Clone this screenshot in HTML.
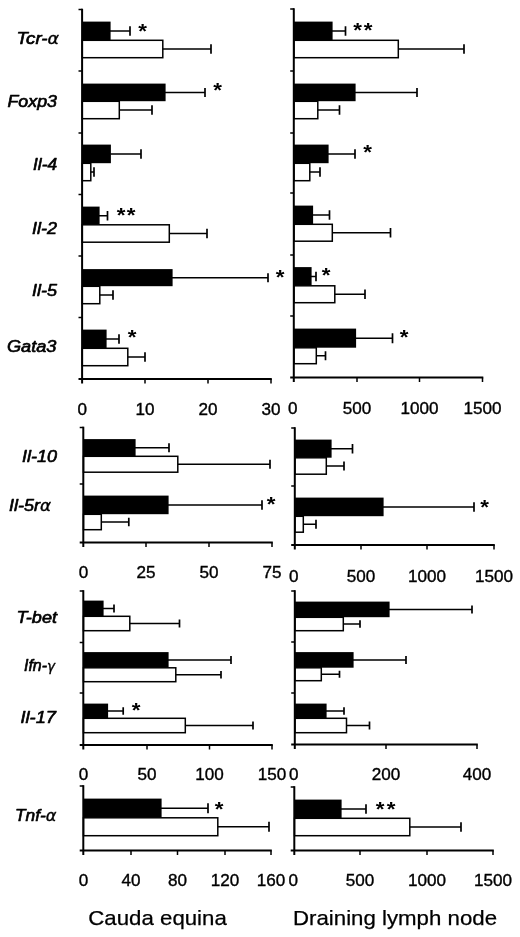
<!DOCTYPE html>
<html lang="en"><head><meta charset="utf-8"><title>Figure</title>
<style>html,body{margin:0;padding:0;background:#fff}svg{display:block}</style>
</head><body>
<svg width="520" height="937" viewBox="0 0 520 937">
<rect width="520" height="937" fill="#fff"/>
<g stroke="#000" stroke-width="1.5" fill="none" stroke-linecap="butt">
<path d="M110 31.0H130M130 26.19V35.81" stroke-width="1.7"/>
<rect x="82.3" y="21.6" width="28.300000000000004" height="18.6" fill="#000" stroke="none"/>
<path d="M162.5 49.0H211M211 44.19V53.81" stroke-width="1.7"/>
<rect x="82.3" y="40.3" width="80.50" height="17.40" fill="#fff"/>
<path d="M165 92.5H205M205 87.96V97.04" stroke-width="1.7"/>
<rect x="82.3" y="83.6" width="83.3" height="17.6" fill="#000" stroke="none"/>
<path d="M119 110.0H152M152 105.19V114.81" stroke-width="1.7"/>
<rect x="82.3" y="101.3" width="37.00" height="17.40" fill="#fff"/>
<path d="M110.3 154.0H141M141 149.19V158.81" stroke-width="1.7"/>
<rect x="82.3" y="144.6" width="28.6" height="18.6" fill="#000" stroke="none"/>
<path d="M90.5 172.0H94M94 167.19V176.81" stroke-width="1.7"/>
<rect x="82.3" y="163.3" width="8.50" height="17.40" fill="#fff"/>
<path d="M99 215.75H107.5M107.5 211.08V220.42" stroke-width="1.7"/>
<rect x="82.3" y="206.6" width="17.300000000000004" height="18.1" fill="#000" stroke="none"/>
<path d="M169 233.5H207M207 228.69V238.31" stroke-width="1.7"/>
<rect x="82.3" y="224.8" width="87.00" height="17.40" fill="#fff"/>
<path d="M172 277.75H268M268 273.34V282.16" stroke-width="1.7"/>
<rect x="82.3" y="269.1" width="90.3" height="17.1" fill="#000" stroke="none"/>
<path d="M99.5 295.0H113M113 290.19V299.81" stroke-width="1.7"/>
<rect x="82.3" y="286.3" width="17.50" height="17.40" fill="#fff"/>
<path d="M106 339.0H119M119 334.19V343.81" stroke-width="1.7"/>
<rect x="82.3" y="329.6" width="24.300000000000004" height="18.6" fill="#000" stroke="none"/>
<path d="M127.5 357.0H145M145 352.19V361.81" stroke-width="1.7"/>
<rect x="82.3" y="348.3" width="45.50" height="17.40" fill="#fff"/>
<path d="M82.1 8.7V383.5" stroke-width="2"/>
<path d="M78.5 9.5H82.3"/>
<path d="M78.5 71H82.3"/>
<path d="M78.5 133H82.3"/>
<path d="M78.5 194.5H82.3"/>
<path d="M78.5 256H82.3"/>
<path d="M78.5 317.5H82.3"/>
<path d="M78.5 379H271.8" stroke-width="1.8"/>
<path d="M145 379V383.5"/>
<path d="M208 379V383.5"/>
<path d="M271 379V383.5"/>
<path d="M332 31.0H345.5M345.5 26.19V35.81" stroke-width="1.7"/>
<rect x="294" y="21.6" width="38.6" height="18.6" fill="#000" stroke="none"/>
<path d="M398 49.0H464M464 44.19V53.81" stroke-width="1.7"/>
<rect x="294" y="40.3" width="104.30" height="17.40" fill="#fff"/>
<path d="M355 92.5H417M417 87.96V97.04" stroke-width="1.7"/>
<rect x="294" y="83.6" width="61.6" height="17.6" fill="#000" stroke="none"/>
<path d="M317.5 110.0H339.5M339.5 105.19V114.81" stroke-width="1.7"/>
<rect x="294" y="101.3" width="23.80" height="17.40" fill="#fff"/>
<path d="M328 154.0H355M355 149.19V158.81" stroke-width="1.7"/>
<rect x="294" y="144.6" width="34.6" height="18.6" fill="#000" stroke="none"/>
<path d="M309.5 172.0H320M320 167.19V176.81" stroke-width="1.7"/>
<rect x="294" y="163.3" width="15.80" height="17.40" fill="#fff"/>
<path d="M312.5 215.0H329.5M329.5 210.19V219.81" stroke-width="1.7"/>
<rect x="294" y="205.6" width="19.1" height="18.6" fill="#000" stroke="none"/>
<path d="M332 232.75H390.5M390.5 228.08V237.42" stroke-width="1.7"/>
<rect x="294" y="224.3" width="38.30" height="16.90" fill="#fff"/>
<path d="M311 276.5H316M316 271.69V281.31" stroke-width="1.7"/>
<rect x="294" y="267.1" width="17.6" height="18.6" fill="#000" stroke="none"/>
<path d="M334.5 294.25H365M365 289.58V298.92" stroke-width="1.7"/>
<rect x="294" y="285.8" width="40.80" height="16.90" fill="#fff"/>
<path d="M355.5 338.25H392.5M392.5 333.31V343.19" stroke-width="1.7"/>
<rect x="294" y="328.6" width="62.1" height="19.1" fill="#000" stroke="none"/>
<path d="M316 355.75H325.5M325.5 351.34V360.16" stroke-width="1.7"/>
<rect x="294" y="347.8" width="22.30" height="15.90" fill="#fff"/>
<path d="M293.8 8.2V382.0" stroke-width="2"/>
<path d="M290.2 9H294"/>
<path d="M290.2 71H294"/>
<path d="M290.2 133H294"/>
<path d="M290.2 193H294"/>
<path d="M290.2 255H294"/>
<path d="M290.2 316H294"/>
<path d="M290.2 377.5H483.3" stroke-width="1.8"/>
<path d="M357 377.5V382.0"/>
<path d="M419.5 377.5V382.0"/>
<path d="M482.5 377.5V382.0"/>
<path d="M135 447.75H169M169 443.34V452.16" stroke-width="1.7"/>
<rect x="83.5" y="439.1" width="52.1" height="17.1" fill="#000" stroke="none"/>
<path d="M177.5 464.25H270M270 459.84V468.66" stroke-width="1.7"/>
<rect x="83.5" y="456.3" width="94.30" height="15.90" fill="#fff"/>
<path d="M168 505.0H262M262 500.19V509.81" stroke-width="1.7"/>
<rect x="83.5" y="495.6" width="85.1" height="18.6" fill="#000" stroke="none"/>
<path d="M101 522.0H128.8M128.8 517.73V526.27" stroke-width="1.7"/>
<rect x="83.5" y="514.3" width="17.80" height="15.40" fill="#fff"/>
<path d="M83.3 426.7V547.0" stroke-width="2"/>
<path d="M79.7 427.5H83.5"/>
<path d="M79.7 484H83.5"/>
<path d="M79.7 542.5H272.8" stroke-width="1.8"/>
<path d="M146 542.5V547.0"/>
<path d="M209 542.5V547.0"/>
<path d="M272 542.5V547.0"/>
<path d="M331 448.75H352.5M352.5 444.08V453.42" stroke-width="1.7"/>
<rect x="295" y="439.6" width="36.6" height="18.1" fill="#000" stroke="none"/>
<path d="M326 466.0H344M344 461.46V470.54" stroke-width="1.7"/>
<rect x="295" y="457.8" width="31.30" height="16.40" fill="#fff"/>
<path d="M383 507.0H474M474 502.19V511.81" stroke-width="1.7"/>
<rect x="295" y="497.6" width="88.6" height="18.6" fill="#000" stroke="none"/>
<path d="M303 524.25H316M316 519.84V528.66" stroke-width="1.7"/>
<rect x="295" y="516.3" width="8.30" height="15.90" fill="#fff"/>
<path d="M294.8 427.2V549.5" stroke-width="2"/>
<path d="M291.2 428H295"/>
<path d="M291.2 486H295"/>
<path d="M291.2 545H494.8" stroke-width="1.8"/>
<path d="M361 545V549.5"/>
<path d="M427 545V549.5"/>
<path d="M494 545V549.5"/>
<path d="M103 608.5H114M114 604.5V612.5" stroke-width="1.7"/>
<rect x="83.5" y="600.6" width="20.1" height="15.6" fill="#000" stroke="none"/>
<path d="M129.5 623.5H179.5M179.5 619.5V627.5" stroke-width="1.7"/>
<rect x="83.5" y="616.3" width="46.30" height="14.40" fill="#fff"/>
<path d="M168 660.0H231M231 656.0V664.0" stroke-width="1.7"/>
<rect x="83.5" y="652.1" width="85.1" height="15.6" fill="#000" stroke="none"/>
<path d="M175.5 674.75H221M221 670.88V678.62" stroke-width="1.7"/>
<rect x="83.5" y="667.8" width="92.30" height="13.90" fill="#fff"/>
<path d="M107.5 711.0H123.2M123.2 707.26V714.74" stroke-width="1.7"/>
<rect x="83.5" y="703.6" width="24.6" height="14.6" fill="#000" stroke="none"/>
<path d="M185 725.5H253M253 721.5V729.5" stroke-width="1.7"/>
<rect x="83.5" y="718.3" width="101.80" height="14.40" fill="#fff"/>
<path d="M83.3 590.2V749.5" stroke-width="2"/>
<path d="M79.7 591H83.5"/>
<path d="M79.7 642.5H83.5"/>
<path d="M79.7 693H83.5"/>
<path d="M79.7 745H272.8" stroke-width="1.8"/>
<path d="M147 745V749.5"/>
<path d="M209.5 745V749.5"/>
<path d="M272 745V749.5"/>
<path d="M389 609.5H472M472 605.5V613.5" stroke-width="1.7"/>
<rect x="295" y="601.6" width="94.6" height="15.6" fill="#000" stroke="none"/>
<path d="M343 624.0H360M360 620.26V627.74" stroke-width="1.7"/>
<rect x="295" y="617.3" width="48.30" height="13.40" fill="#fff"/>
<path d="M353 660.0H406M406 656.0V664.0" stroke-width="1.7"/>
<rect x="295" y="652.1" width="58.6" height="15.6" fill="#000" stroke="none"/>
<path d="M321 674.25H339.5M339.5 670.65V677.85" stroke-width="1.7"/>
<rect x="295" y="667.8" width="26.30" height="12.90" fill="#fff"/>
<path d="M326 711.0H344M344 707.26V714.74" stroke-width="1.7"/>
<rect x="295" y="703.6" width="31.6" height="14.6" fill="#000" stroke="none"/>
<path d="M346.2 725.5H369.5M369.5 721.5V729.5" stroke-width="1.7"/>
<rect x="295" y="718.3" width="51.50" height="14.40" fill="#fff"/>
<path d="M294.8 590.2V749.0" stroke-width="2"/>
<path d="M291.2 591H295"/>
<path d="M291.2 642H295"/>
<path d="M291.2 693H295"/>
<path d="M291.2 744.5H477.8" stroke-width="1.8"/>
<path d="M386 744.5V749.0"/>
<path d="M477 744.5V749.0"/>
<path d="M161 808.25H208M208 803.31V813.19" stroke-width="1.7"/>
<rect x="83.5" y="798.6" width="78.1" height="19.1" fill="#000" stroke="none"/>
<path d="M217.5 826.75H269M269 821.81V831.69" stroke-width="1.7"/>
<rect x="83.5" y="817.8" width="134.30" height="17.90" fill="#fff"/>
<path d="M83.3 785.2V855.0" stroke-width="2"/>
<path d="M79.7 786H83.5"/>
<path d="M79.7 850.5H271.8" stroke-width="1.8"/>
<path d="M131 850.5V855.0"/>
<path d="M177.5 850.5V855.0"/>
<path d="M225 850.5V855.0"/>
<path d="M271 850.5V855.0"/>
<path d="M341 809.0H366M366 804.19V813.81" stroke-width="1.7"/>
<rect x="294.5" y="799.6" width="47.1" height="18.6" fill="#000" stroke="none"/>
<path d="M409.5 827.0H461M461 822.19V831.81" stroke-width="1.7"/>
<rect x="294.5" y="818.3" width="115.30" height="17.40" fill="#fff"/>
<path d="M294.3 786.2V855.0" stroke-width="2"/>
<path d="M290.7 787H294.5"/>
<path d="M290.7 850.5H493.8" stroke-width="1.8"/>
<path d="M360 850.5V855.0"/>
<path d="M427 850.5V855.0"/>
<path d="M493 850.5V855.0"/>
</g>
<g font-family="'Liberation Sans', Arial, Helvetica, sans-serif" font-size="15.7" fill="#000" stroke="#000" stroke-width="0.35" text-anchor="middle">
<text transform="translate(82.3 414.8) scale(1.09 1)">0</text>
<text transform="translate(145 414.8) scale(1.09 1)">10</text>
<text transform="translate(208 414.8) scale(1.09 1)">20</text>
<text transform="translate(271 414.8) scale(1.09 1)">30</text>
<text transform="translate(292.8 413.8) scale(1.09 1)">0</text>
<text transform="translate(357 413.8) scale(1.09 1)">500</text>
<text transform="translate(419.5 413.8) scale(1.09 1)">1000</text>
<text transform="translate(482.5 413.8) scale(1.09 1)">1500</text>
<text transform="translate(83.5 577.8) scale(1.09 1)">0</text>
<text transform="translate(146 577.8) scale(1.09 1)">25</text>
<text transform="translate(209 577.8) scale(1.09 1)">50</text>
<text transform="translate(272 577.8) scale(1.09 1)">75</text>
<text transform="translate(293.8 581.8) scale(1.09 1)">0</text>
<text transform="translate(361 581.8) scale(1.09 1)">500</text>
<text transform="translate(427 581.8) scale(1.09 1)">1000</text>
<text transform="translate(494 581.8) scale(1.09 1)">1500</text>
<text transform="translate(83.5 780.3) scale(1.09 1)">0</text>
<text transform="translate(147 780.3) scale(1.09 1)">50</text>
<text transform="translate(209.5 780.3) scale(1.09 1)">100</text>
<text transform="translate(272 780.3) scale(1.09 1)">150</text>
<text transform="translate(293.8 779.8) scale(1.09 1)">0</text>
<text transform="translate(386 779.8) scale(1.09 1)">200</text>
<text transform="translate(477 779.8) scale(1.09 1)">400</text>
<text transform="translate(83.5 885.8) scale(1.09 1)">0</text>
<text transform="translate(131 885.8) scale(1.09 1)">40</text>
<text transform="translate(177.5 885.8) scale(1.09 1)">80</text>
<text transform="translate(225 885.8) scale(1.09 1)">120</text>
<text transform="translate(271 885.8) scale(1.09 1)">160</text>
<text transform="translate(293.3 885.8) scale(1.09 1)">0</text>
<text transform="translate(360 885.8) scale(1.09 1)">500</text>
<text transform="translate(427 885.8) scale(1.09 1)">1000</text>
<text transform="translate(493 885.8) scale(1.09 1)">1500</text>
</g>
<g font-family="'Liberation Sans', Arial, Helvetica, sans-serif" font-size="20" font-weight="bold" fill="#000" text-anchor="middle">
<text transform="translate(142.5 38.2) scale(1.12 1)">*</text>
<text transform="translate(217.5 97.2) scale(1.12 1)">*</text>
<text transform="translate(121 221.7) scale(1.12 1)">*</text>
<text transform="translate(131 221.7) scale(1.12 1)">*</text>
<text transform="translate(280 284.2) scale(1.12 1)">*</text>
<text transform="translate(132 343.7) scale(1.12 1)">*</text>
<text transform="translate(357.5 37.2) scale(1.12 1)">*</text>
<text transform="translate(368 37.2) scale(1.12 1)">*</text>
<text transform="translate(367.5 159.2) scale(1.12 1)">*</text>
<text transform="translate(326 281.7) scale(1.12 1)">*</text>
<text transform="translate(404 344.2) scale(1.12 1)">*</text>
<text transform="translate(271 511.2) scale(1.12 1)">*</text>
<text transform="translate(484.5 514.2) scale(1.12 1)">*</text>
<text transform="translate(136 716.7) scale(1.12 1)">*</text>
<text transform="translate(219 816.2) scale(1.12 1)">*</text>
<text transform="translate(380 816.2) scale(1.12 1)">*</text>
<text transform="translate(391 816.2) scale(1.12 1)">*</text>
</g>
<g font-family="'Liberation Sans', Arial, Helvetica, sans-serif" font-size="16.5" font-style="italic" fill="#000" stroke="#000" stroke-width="0.65" stroke-linejoin="round">
<text x="16.42" y="43.8" textLength="42.60" lengthAdjust="spacingAndGlyphs">Tcr-<tspan font-family="'DejaVu Sans', sans-serif" font-size="15.5" stroke-width="0.4">α</tspan></text>
<text x="7.49" y="106.7" textLength="49.51" lengthAdjust="spacingAndGlyphs">Foxp3</text>
<text x="33.00" y="169.7" textLength="24.00" lengthAdjust="spacingAndGlyphs">Il-4</text>
<text x="32.00" y="234" textLength="25.00" lengthAdjust="spacingAndGlyphs">Il-2</text>
<text x="32.00" y="296" textLength="25.00" lengthAdjust="spacingAndGlyphs">Il-5</text>
<text x="6.98" y="352" textLength="49.52" lengthAdjust="spacingAndGlyphs">Gata3</text>
<text x="22.00" y="462" textLength="35.01" lengthAdjust="spacingAndGlyphs">Il-10</text>
<text x="9.00" y="511.4" textLength="42.01" lengthAdjust="spacingAndGlyphs">Il-5r<tspan font-family="'DejaVu Sans', sans-serif" font-size="15.5" stroke-width="0.4">α</tspan></text>
<text x="16.49" y="623" textLength="40.50" lengthAdjust="spacingAndGlyphs">T-bet</text>
<text x="24.00" y="671.4" textLength="31.03" lengthAdjust="spacingAndGlyphs">Ifn-<tspan font-family="'DejaVu Sans', sans-serif" font-size="14" stroke-width="0.4">γ</tspan></text>
<text x="20.47" y="723.4" textLength="35.54" lengthAdjust="spacingAndGlyphs">Il-17</text>
<text x="14.97" y="821" textLength="41.55" lengthAdjust="spacingAndGlyphs">Tnf-<tspan font-family="'DejaVu Sans', sans-serif" font-size="15.5" stroke-width="0.4">α</tspan></text>
</g>
<g font-family="'Liberation Sans', Arial, Helvetica, sans-serif" font-size="21" fill="#000" stroke="#000" stroke-width="0.25">
<text x="88.3" y="924.5" textLength="138.5" lengthAdjust="spacingAndGlyphs">Cauda equina</text>
<text x="293" y="924.5" textLength="204" lengthAdjust="spacingAndGlyphs">Draining lymph node</text>
</g>
</svg>
</body></html>
